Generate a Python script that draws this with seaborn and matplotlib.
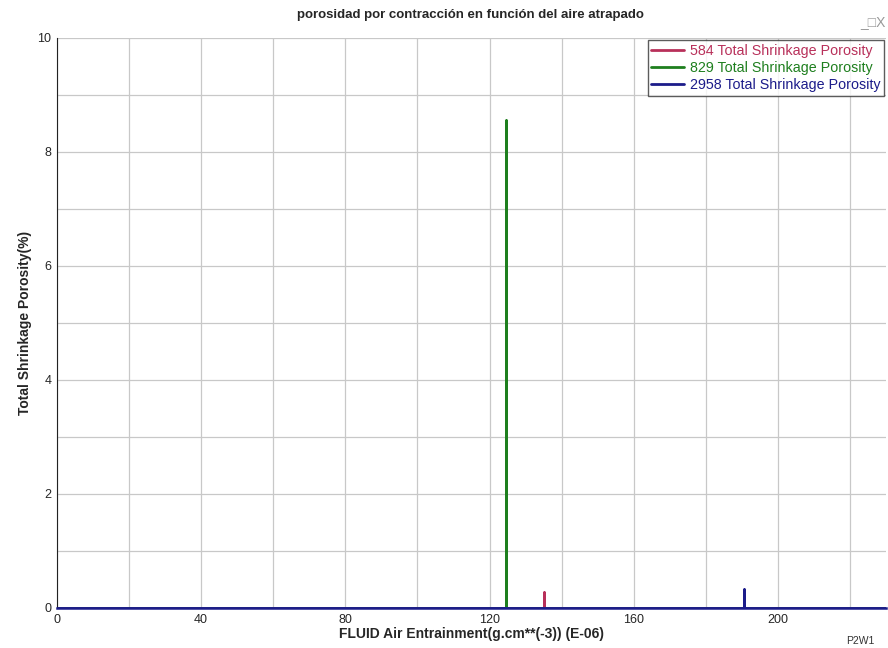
import matplotlib
matplotlib.use("Agg")
import matplotlib.pyplot as plt
import seaborn as sns
import pandas as pd
import numpy as np
from matplotlib.lines import Line2D

sns.set_style("white")
plt.rcParams['font.family'] = ['Liberation Sans', 'DejaVu Sans']

series_names = ["584 Total Shrinkage Porosity", "829 Total Shrinkage Porosity", "2958 Total Shrinkage Porosity"]
series_colors = ["#B8305A", "#1E7F1E", "#1C1C8A"]
# each series: flat at zero with one spike
x_584 = [0, 135, 135, 135, 230]
y_584 = [0, 0, 0.28, 0, 0]
x_829 = [0, 124.5, 124.5, 124.5, 230]
y_829 = [0, 0, 8.56, 0, 0]
x_2958 = [0, 190.5, 190.5, 190.5, 230]
y_2958 = [0, 0, 0.33, 0, 0]

xs = [x_584, x_829, x_2958]
ys = [y_584, y_829, y_2958]

frames = []
for name, x, y in zip(series_names, xs, ys):
    frames.append(pd.DataFrame({"x": x, "y": y, "series": name}))
df = pd.concat(frames, ignore_index=True)

fig = plt.figure(figsize=(8.88, 6.48), dpi=100)
ax = fig.add_axes([57/888, 40/648, 829/888, 570/648])

palette = dict(zip(series_names, series_colors))
sns.lineplot(data=df, x="x", y="y", hue="series", palette=palette, sort=False,
             estimator=None, ax=ax, linewidth=1.8, legend=False)

ax.set_xlim(0, 230)
ax.set_ylim(0, 10)
ax.set_xticks(np.arange(0, 230, 40))
ax.set_xticks(np.arange(0, 230, 20), minor=True)
ax.set_yticks(np.arange(0, 11, 2))
ax.set_yticks(np.arange(0, 11, 1), minor=True)
ax.grid(True, which="both", color="#C8C8C8", linewidth=0.9)
ax.set_axisbelow(True)
ax.tick_params(axis="both", which="major", labelsize=9, length=4, direction="inout", color="#333333", pad=2)
ax.tick_params(axis="both", which="minor", length=0)
for s in ["top", "right"]:
    ax.spines[s].set_visible(False)
ax.spines["left"].set_color("#222222")
ax.spines["bottom"].set_color("#1C1C8A")
ax.spines["bottom"].set_linewidth(1.8)

ax.set_xlabel("FLUID Air Entrainment(g.cm**(-3)) (E-06)", fontsize=10, fontweight="bold", labelpad=1)
ax.set_ylabel("Total Shrinkage Porosity(%)", fontsize=10, fontweight="bold", labelpad=4)

handles = [Line2D([0], [0], color=c, lw=2) for c in series_colors]
leg = ax.legend(handles, series_names, loc="upper right", bbox_to_anchor=(1.0, 1.0),
                fontsize=10.3, frameon=True, fancybox=False, handlelength=2.3,
                borderpad=0.25, labelspacing=0.22, handletextpad=0.4, borderaxespad=0.15)
leg.get_frame().set_edgecolor("#333333")
leg.get_frame().set_linewidth(1.0)
for txt, c in zip(leg.get_texts(), series_colors):
    txt.set_color(c)

fig.text(470/888, 1 - 15/648, "porosidad por contracción en función del aire atrapado",
         ha="center", va="center", fontsize=9.5, fontweight="bold")
fig.text(873/888, 1 - 22/648, "_□X", ha="center", va="center", fontsize=10, color="#999999")
fig.text(846/888, 1 - 641/648, "P2W1", ha="left", va="center", fontsize=7.5, color="#333333")

fig.savefig("out.png", dpi=100)
